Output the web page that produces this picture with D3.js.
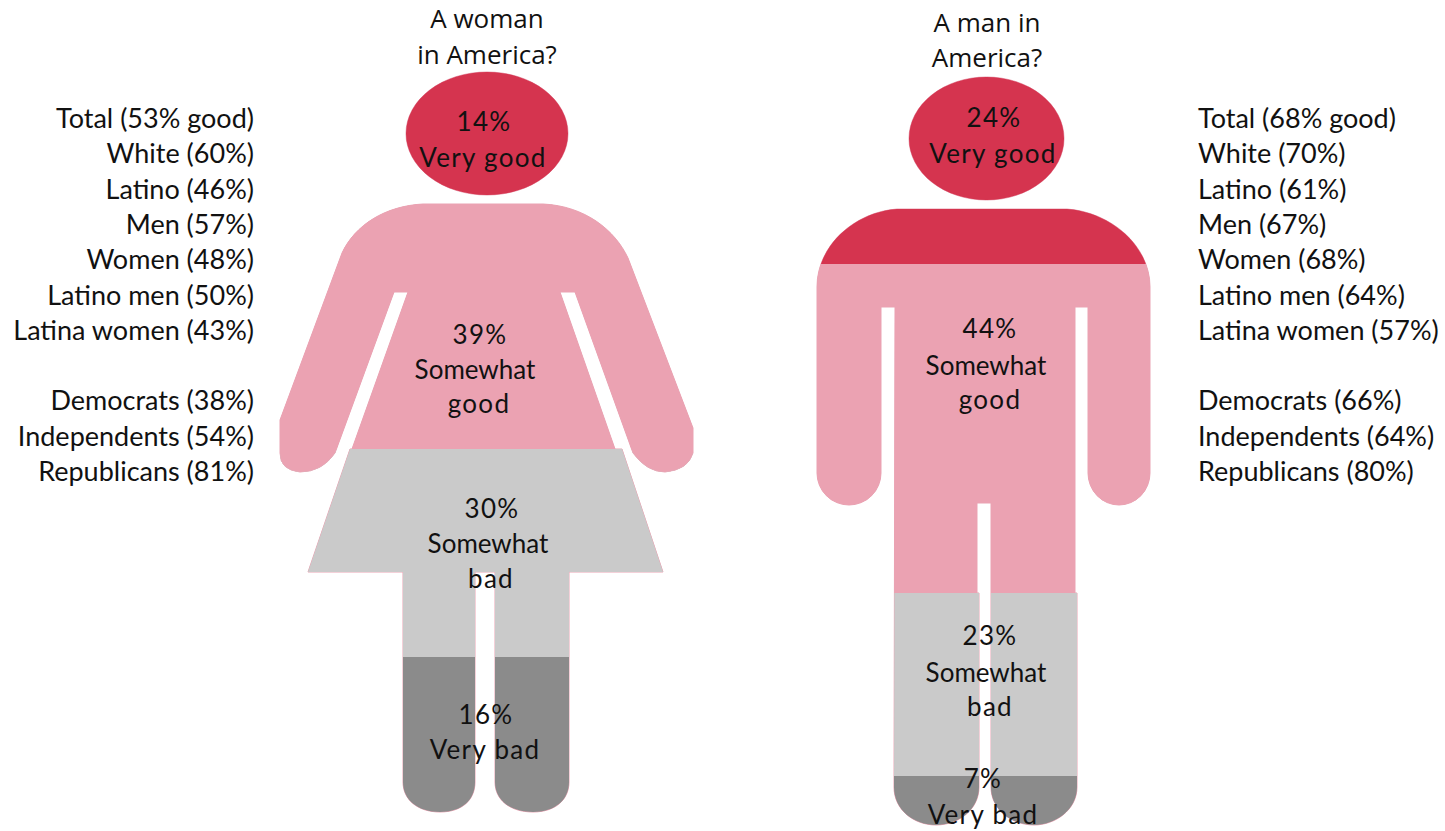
<!DOCTYPE html>
<html>
<head>
<meta charset="utf-8">
<style>
  html, body { margin: 0; background: #fff; }
  svg { display: block; }
  text { fill: #111; }
</style>
<script src="https://cdn.jsdelivr.net/npm/d3@7"></script>
</head>
<body>
<svg></svg>
<script>
// values
const responses = ["Very good", "Somewhat good", "Somewhat bad", "Very bad"];
const womanValues = [14, 39, 30, 16];
const manValues = [24, 44, 23, 7];
const groups = ["Total", "White", "Latino", "Men", "Women", "Latino men", "Latina women", "", "Democrats", "Independents", "Republicans"];
const womanGood = [53, 60, 46, 57, 48, 50, 43, null, 38, 54, 81];
const manGood = [68, 70, 61, 67, 68, 64, 57, null, 66, 64, 80];

const bandColors = d3.scaleOrdinal().domain(responses).range(["#d5344f", "#eba2b2", "#cacaca", "#8b8b8b"]);

const labelFont = "Lato";
const titleFont = "Open Sans";

let svg = d3.select("svg").attr("width", 1445).attr("height", 831);
let defs = svg.append("defs");

// silhouettes, head and body in one path. the bands get clipped to these
const womanShape =
  "M406 133.5 A81 61.5 0 1 1 568 133.5 A81 61.5 0 1 1 406 133.5 Z " +
  "M423 204 L543 204 C585 206 615 230 628 258 L693 428 L693 453 Q688 470 665 472 Q647 472 633 453 " +
  "L575 292 L560 292 L615 449 L622 449 L663 572 L569 572 L569 782 C569 800 555 812 533 812 " +
  "C510 812 495 800 495 782 L495 572 L475 572 L475 782 C475 800 462 812 440 812 " +
  "C418 812 403 800 403 782 L403 572 L308 572 L350 449 L352 449 L408 292 L394 292 L335 453 " +
  "Q322 472 300 472 Q280 470 280 453 L280 420 L342 253 C355 225 385 206 423 204 Z";

// her hands hang past the skirt line but stay in the upper colour
const womanHands =
  "M280 445 L338 445 L335 453 Q322 472 300 472 Q280 470 280 453 Z " +
  "M630 445 L693 445 L693 453 Q688 470 665 472 Q647 472 633 453 Z";

const manShape =
  "M909 138.5 A77.5 61.5 0 1 1 1064 138.5 A77.5 61.5 0 1 1 909 138.5 Z " +
  "M897 209 L1067 209 C1110 212 1150 245 1150 287 L1150 473 A31 32 0 0 1 1088 473 L1088 307 L1075 307 " +
  "L1075 593 L1077 593 L1077 787 C1077 810 1055 825 1034 825 C1012 825 991 810 991 787 L991 503 L977 503 " +
  "L977 593 L979 593 L979 787 C979 810 958 825 936 825 C914 825 894 810 894 787 L895 307 L881 307 L881 473 " +
  "A32 32 0 0 1 817 473 L817 287 C817 245 855 212 897 209 Z";

// the icon is not stretched evenly, so each scale is piecewise
function drawFigure(name, shape, values, breaks, xExtent) {
  let cum = [0, ...d3.cumsum(values)];
  let y = d3.scaleLinear().domain(cum).range(breaks);

  defs.append("clipPath").attr("id", `clip-${name}`).append("path").attr("d", shape);

  let g = svg.append("g");
  g.append("path")
    .attr("d", shape)
    .attr("fill", bandColors(responses[1]))
    .attr("stroke", "#e9a3b3")
    .attr("stroke-width", 1);

  g.append("g")
    .attr("clip-path", `url(#clip-${name})`)
    .selectAll("rect")
    .data(values)
    .join("rect")
    .attr("x", xExtent[0])
    .attr("width", xExtent[1] - xExtent[0])
    .attr("y", (_, i) => y(cum[i]))
    .attr("height", (_, i) => y(cum[i + 1]) - y(cum[i]))
    .attr("fill", (_, i) => bandColors(responses[i]));
}

drawFigure("woman", womanShape, womanValues, [70, 199, 449, 657, 814], [270, 700]);
drawFigure("man", manShape, manValues, [75, 264, 593, 776, 828], [810, 1160]);

svg.append("path")
  .attr("d", womanHands)
  .attr("fill", bandColors(responses[1]));

// labels on the figures, [x, baseline] per line
function bandLabel(values, i, spots) {
  let words = responses[i].split(" ");
  let lines = [`${values[i]}%`].concat(words[0] == "Somewhat" ? words : [responses[i]]);
  return lines.map((t, j) => ({ t, x: spots[j][0], y: spots[j][1] }));
}

const womanSpots = [
  [[484, 131], [483, 167]],
  [[480, 344], [475, 379], [479, 413]],
  [[492, 518], [488, 553], [491, 588]],
  [[486, 724], [485, 759]],
];
const manSpots = [
  [[994, 127], [993, 163]],
  [[990, 338], [986, 375], [990, 409]],
  [[990, 645], [986, 682], [990, 716]],
  [[983, 788], [983, 824]],
];

let bandText = responses.flatMap((_, i) =>
  bandLabel(womanValues, i, womanSpots[i]).concat(bandLabel(manValues, i, manSpots[i]))
);

svg.append("g")
  .selectAll("text")
  .data(bandText)
  .join("text")
  .attr("x", (d) => d.x)
  .attr("y", (d) => d.y)
  .attr("text-anchor", "middle")
  .attr("font-family", labelFont)
  .attr("font-size", 26)
  .attr("letter-spacing", (d) => (d.t == "Somewhat" ? 0 : 1.3))
  .text((d) => d.t);

// titles
let titles = [
  { t: "A woman", x: 487, y: 28 },
  { t: "in America?", x: 487, y: 64 },
  { t: "A man in", x: 987, y: 32 },
  { t: "America?", x: 987, y: 67 },
];

svg.append("g")
  .selectAll("text")
  .data(titles)
  .join("text")
  .attr("x", (d) => d.x)
  .attr("y", (d) => d.y)
  .attr("text-anchor", "middle")
  .attr("font-family", titleFont)
  .attr("font-size", 26)
  .text((d) => d.t);

// side lists
let rowY = d3.scaleLinear().domain([0, groups.length - 1]).range([128, 481]);

function sideList(values, x, anchor) {
  svg.append("g")
    .selectAll("text")
    .data(groups.map((g, i) => ({ g, i, v: values[i] })).filter((d) => d.v != null))
    .join("text")
    .attr("x", x)
    .attr("y", (d) => rowY(d.i))
    .attr("text-anchor", anchor)
    .attr("font-family", labelFont)
    .attr("font-size", 27)
    .text((d) => `${d.g} (${d.v}%${d.i == 0 ? " good" : ""})`);
}

sideList(womanGood, 254, "end");
sideList(manGood, 1198, "start");
</script>
</body>
</html>
